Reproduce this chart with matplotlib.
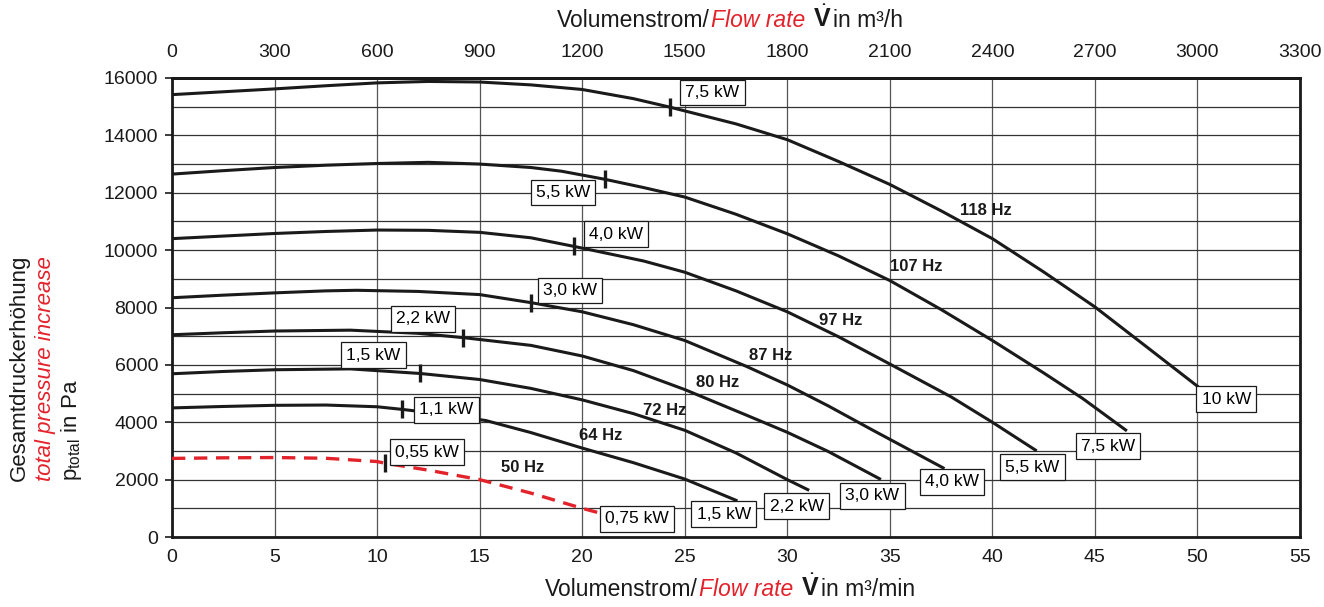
#!/usr/bin/env python3
"""
Fan performance curves: total pressure increase vs. flow rate
for several drive frequencies, with motor power marks.
"""

import numpy as np
import matplotlib
matplotlib.use("Agg")
import matplotlib.pyplot as plt
from matplotlib.ticker import MultipleLocator
from matplotlib.offsetbox import TextArea, HPacker, AnchoredOffsetbox

plt.rcParams['font.family'] = ['Liberation Sans', 'DejaVu Sans']
plt.rcParams['mathtext.fontset'] = 'custom'
plt.rcParams['mathtext.rm'] = 'Liberation Sans'
plt.rcParams['mathtext.it'] = 'Liberation Sans:italic'
plt.rcParams['mathtext.bf'] = 'Liberation Sans:bold'

RED = '#e3232b'
INK = '#1a1a1a'

# ---- data (flow in m3/min, pressure in Pa) ----
freqs = ['118 Hz', '107 Hz', '97 Hz', '87 Hz', '80 Hz', '72 Hz', '64 Hz', '50 Hz']

flow_118 = [0, 2.5, 5, 7.5, 10, 12.5, 15, 17.5, 20, 22.5, 24.3, 27.5, 30, 32.5, 35, 37.5, 40, 42.5, 45, 47.5, 50.1]
pres_118 = [15420, 15520, 15620, 15730, 15830, 15880, 15860, 15760, 15600, 15280, 14980, 14400, 13850, 13090,
            12290, 11370, 10400, 9240, 8020, 6640, 5200]

flow_107 = [0, 2.5, 5, 7.5, 10, 12.5, 15, 17.5, 19, 21.1, 23, 25, 27.5, 30, 32.5, 35, 37.5, 40, 42.5, 44.4, 46.5]
pres_107 = [12650, 12770, 12880, 12960, 13020, 13060, 13000, 12880, 12750, 12470, 12180, 11850, 11250, 10570,
            9800, 8940, 7930, 6850, 5720, 4830, 3730]

flow_97 = [0, 2.5, 5, 7.5, 10, 12.5, 15, 17.5, 19.6, 23, 25, 27.5, 30, 32.5, 35, 38, 40, 42.1]
pres_97 = [10400, 10490, 10580, 10650, 10700, 10690, 10620, 10430, 10130, 9620, 9230, 8580, 7850, 6980,
           6030, 4880, 4000, 3030]

flow_87 = [0, 2.5, 5, 7.5, 9, 12, 15, 17.5, 20, 22.5, 25, 28, 30, 32, 34.1, 37.6]
pres_87 = [8340, 8430, 8510, 8580, 8600, 8560, 8450, 8170, 7850, 7400, 6850, 5950, 5300, 4570, 3750, 2410]

flow_80 = [0, 2.5, 5, 8.7, 12, 14.2, 17.5, 20, 22.5, 25, 28, 30, 32, 34.5]
pres_80 = [7050, 7120, 7180, 7210, 7100, 6950, 6680, 6310, 5800, 5140, 4250, 3650, 2980, 2030]

flow_72 = [0, 2.5, 5, 8.7, 12.1, 15, 17.5, 20, 22.5, 25, 27.5, 30, 31]
pres_72 = [5690, 5770, 5830, 5860, 5700, 5490, 5180, 4780, 4300, 3720, 2930, 2000, 1650]

flow_64 = [0, 2.5, 5, 7.5, 10, 11.2, 13, 15.3, 17.5, 20, 22.5, 25, 27.5]
pres_64 = [4500, 4550, 4590, 4600, 4540, 4450, 4300, 4060, 3640, 3100, 2590, 2020, 1280]

flow_50 = [0, 2.5, 5, 7.5, 10, 10.4, 12.5, 15, 17.5, 20, 21.2]
pres_50 = [2740, 2760, 2770, 2745, 2630, 2570, 2330, 2000, 1530, 1000, 770]

curves = [(flow_118, pres_118), (flow_107, pres_107), (flow_97, pres_97),
          (flow_87, pres_87), (flow_80, pres_80), (flow_72, pres_72),
          (flow_64, pres_64), (flow_50, pres_50)]

# power marks on the curves
mark_flow = [24.3, 21.1, 19.6, 17.5, 14.2, 12.1, 11.2, 10.4]
mark_pres = [14980, 12470, 10130, 8170, 6950, 5700, 4450, 2570]
mark_kw = ['7,5 kW', '5,5 kW', '4,0 kW', '3,0 kW', '2,2 kW', '1,5 kW', '1,1 kW', '0,55 kW']
mark_lbl_x = [26.35, 19.07, 21.66, 19.41, 12.24, 9.83, 13.39, 12.44]
mark_lbl_y = [15490, 12000, 10560, 8590, 7600, 6340, 4430, 2960]

# power at the end of each curve
end_kw = ['10 kW', '7,5 kW', '5,5 kW', '4,0 kW', '3,0 kW', '2,2 kW', '1,5 kW', '0,75 kW']
end_lbl_x = [51.41, 45.63, 41.95, 38.02, 34.15, 30.46, 26.9, 22.68]
end_lbl_y = [4810, 3170, 2440, 1920, 1430, 1080, 800, 630]

# frequency labels
hz_x = [39.7, 36.3, 32.6, 29.2, 26.6, 24.0, 20.9, 17.1]
hz_y = [11390, 9440, 7560, 6310, 5400, 4420, 3550, 2440]


def main():
    fig = plt.figure(figsize=(13.24, 6.07), dpi=100)
    ax = fig.add_axes([172 / 1324, 1 - 537 / 607, (1300 - 172) / 1324, (537 - 78) / 607])

    ax.set_xlim(0, 55)
    ax.set_ylim(0, 16000)
    ax.xaxis.set_major_locator(MultipleLocator(5))
    ax.yaxis.set_major_locator(MultipleLocator(2000))
    ax.yaxis.set_minor_locator(MultipleLocator(1000))
    ax.grid(True, axis='x', which='major', color='#555555', lw=0.9)
    ax.grid(True, axis='y', which='both', color='#333333', lw=0.9)
    ax.set_axisbelow(True)

    for sp in ax.spines.values():
        sp.set_linewidth(2.0)
        sp.set_color(INK)

    ax.tick_params(axis='x', length=0, pad=9, labelsize=14, colors=INK)
    ax.tick_params(axis='y', which='major', length=5, width=1.2, pad=5, labelsize=14, colors=INK)
    ax.tick_params(axis='y', which='minor', length=0)

    # top axis in m3/h
    top = ax.secondary_xaxis('top', functions=(lambda v: v * 60, lambda v: v / 60))
    top.set_xticks(np.arange(0, 3301, 300))
    top.tick_params(length=0, pad=12, labelsize=14, colors=INK)
    top.spines['top'].set_linewidth(2.0)

    # curves
    for i, (fx, py) in enumerate(curves):
        if freqs[i] == '50 Hz':
            ax.plot(fx, py, color=RED, lw=2.4, dashes=(4, 2.6), zorder=3)
        else:
            ax.plot(fx, py, color=INK, lw=2.2, zorder=3, solid_joinstyle='round')
        ax.text(hz_x[i], hz_y[i], freqs[i], fontsize=12, fontweight='bold',
                ha='center', va='center', color=INK, zorder=4)

    ax.plot(mark_flow, mark_pres, ls='none', marker='|', markersize=13,
            mew=2.4, color=INK, zorder=4)

    box = dict(boxstyle='square,pad=0.3', facecolor='white', edgecolor=INK, lw=0.9)
    for lx, ly, s in zip(mark_lbl_x, mark_lbl_y, mark_kw):
        ax.text(lx, ly, s, fontsize=12.5, ha='center', va='center', bbox=box, zorder=6)
    for lx, ly, s in zip(end_lbl_x, end_lbl_y, end_kw):
        ax.text(lx, ly, s, fontsize=12.5, ha='center', va='center', bbox=box, zorder=6)

    # composite axis labels
    def flow_label(unit, y):
        parts = [
            TextArea('Volumenstrom/', textprops=dict(fontsize=16.5, color=INK)),
            TextArea('Flow rate ', textprops=dict(fontsize=16.5, color=RED, style='italic')),
            TextArea(r'$\dot{\mathbf{V}}$', textprops=dict(fontsize=18, color=INK)),
            TextArea('in m³/' + unit, textprops=dict(fontsize=16.5, color=INK)),
        ]
        pack = HPacker(children=parts, align='baseline', pad=0, sep=1)
        anc = AnchoredOffsetbox(loc='center', child=pack, frameon=False,
                                bbox_to_anchor=(730 / 1324, y),
                                bbox_transform=fig.transFigure, borderpad=0)
        fig.add_artist(anc)

    flow_label('min', 1 - 588 / 607)
    flow_label('h', 1 - 19 / 607)

    y0 = 1 - 481 / 607
    fig.text(19 / 1324, y0, 'Gesamtdruckerhöhung', rotation=90, rotation_mode='anchor',
             ha='left', va='center', fontsize=16, color=INK)
    fig.text(46 / 1324, y0, 'total pressure increase', rotation=90, rotation_mode='anchor',
             ha='left', va='center', fontsize=16, color=RED, style='italic')
    fig.text(72 / 1324, y0, r'p$_{\mathrm{total}}$ in Pa', rotation=90, rotation_mode='anchor',
             ha='left', va='center', fontsize=16, color=INK)

    fig.savefig('out.png', dpi=100)
    plt.close(fig)


if __name__ == "__main__":
    main()
